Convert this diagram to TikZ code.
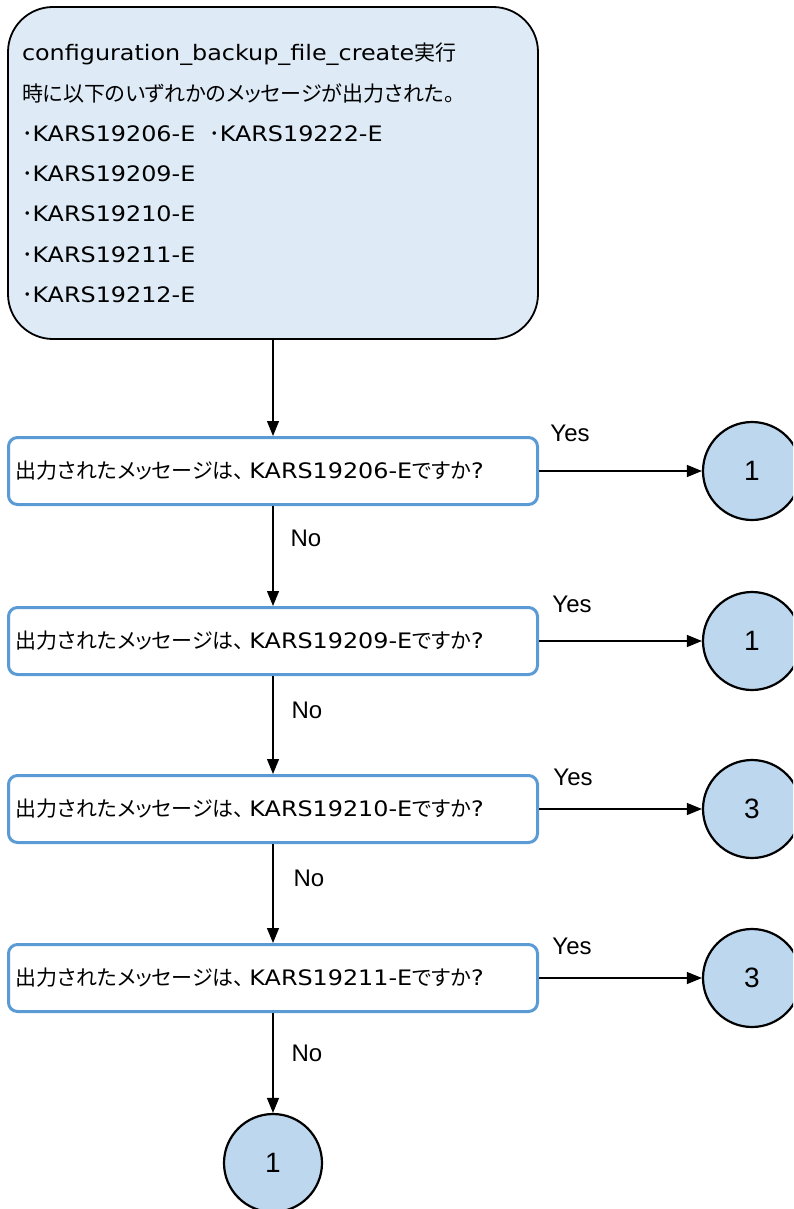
\documentclass[tikz,border=0pt]{standalone}
\usepackage{fontspec}
\setmainfont{Liberation Sans}
\newfontfamily\jpfont[RawFeature=+palt]{Noto Sans CJK JP}
\newfontfamily\vfont[FakeStretch=1.12]{DejaVu Sans}
\newcommand{\jp}[1]{{\jpfont\fontsize{21}{25}\selectfont #1}}
\usetikzlibrary{arrows.meta}

\definecolor{startfill}{RGB}{222,235,247}
\definecolor{askline}{RGB}{91,155,213}
\definecolor{linkfill}{RGB}{189,215,238}

\begin{document}
\begin{tikzpicture}[x=1pt, y=-1pt, >={Triangle[length=15pt, width=12pt]},
    startbox/.style={draw, line width=1.8pt, fill=startfill, rounded corners=45pt,
        minimum width=530pt, minimum height=332pt, text width=502pt, inner xsep=14pt,
        align=left, font=\vfont\fontsize{21.3}{40.3}\selectfont},
    askbox/.style={draw=askline, line width=3pt, fill=white, rounded corners=9pt,
        minimum width=529pt, minimum height=67pt, text width=515pt, inner xsep=7pt,
        align=left, font=\vfont\fontsize{21.3}{25}\selectfont},
    linkcircle/.style={circle, draw, line width=2.2pt, fill=linkfill, minimum size=98pt,
        inner sep=0pt, font=\fontsize{28}{32}\selectfont},
    flow/.style={->, line width=1.2pt},
    tag/.style={font=\fontsize{24}{28}\selectfont}]

    \clip (0,0) rectangle (793,1209);

    \node[startbox] (start) at (273,173) {%
        configuration\_backup\_file\_create\jp{実行}\\
        \jp{時に以下のいずれかのメッセージが出力された。}\\
        \jp{･}KARS19206-E\hspace{14pt}\jp{･}KARS19222-E\\
        \jp{･}KARS19209-E\\
        \jp{･}KARS19210-E\\
        \jp{･}KARS19211-E\\
        \jp{･}KARS19212-E};

    % questions, one per message
    \node[askbox] (ask1) at (273,471) {\jp{出力されたメッセージは、}\hspace{5pt}KARS19206-E\jp{ですか}?};
    \node[askbox] (ask2) at (273,641) {\jp{出力されたメッセージは、}\hspace{5pt}KARS19209-E\jp{ですか}?};
    \node[askbox] (ask3) at (273,809) {\jp{出力されたメッセージは、}\hspace{5pt}KARS19210-E\jp{ですか}?};
    \node[askbox] (ask4) at (273,978) {\jp{出力されたメッセージは、}\hspace{5pt}KARS19211-E\jp{ですか}?};

    \node[linkcircle] (link1) at (752,471) {1};
    \node[linkcircle] (link2) at (752,641) {1};
    \node[linkcircle] (link3) at (752,809) {3};
    \node[linkcircle] (link4) at (752,978) {3};
    \node[linkcircle] (link5) at (273,1163) {1};

    \draw[flow] (start) -- (ask1);
    \draw[flow] (ask1) -- (ask2);
    \draw[flow] (ask2) -- (ask3);
    \draw[flow] (ask3) -- (ask4);
    \draw[flow] (ask4) -- (link5);

    \draw[flow] (ask1) -- (link1);
    \draw[flow] (ask2) -- (link2);
    \draw[flow] (ask3) -- (link3);
    \draw[flow] (ask4) -- (link4);

    \node[tag] (yes1) at (570,433) {Yes};
    \node[tag] (yes2) at (572,604) {Yes};
    \node[tag] (yes3) at (573,777) {Yes};
    \node[tag] (yes4) at (572,946) {Yes};

    \node[tag] (no1) at (306,538) {No};
    \node[tag] (no2) at (307,710) {No};
    \node[tag] (no3) at (309,878) {No};
    \node[tag] (no4) at (307,1053) {No};
\end{tikzpicture}
\end{document}
